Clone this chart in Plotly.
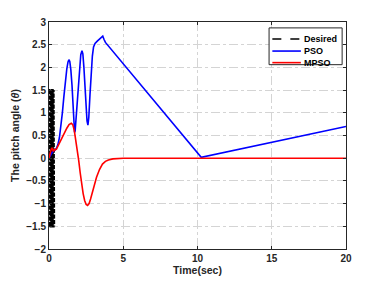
import plotly.graph_objects as go

# ---- data ----
desired_t = [0.000, 0.000, 0.012, 0.012, 0.024, 0.024, 0.036, 0.036, 0.048, 0.048,
             0.060, 0.060, 0.072, 0.072, 0.084, 0.084, 0.096, 0.096, 0.108, 0.108,
             0.120, 0.120, 0.132, 0.132, 0.144, 0.144, 0.156, 0.156, 0.168, 0.168,
             0.180, 0.180, 0.192, 0.192, 0.204, 0.204, 0.216, 0.216, 0.228, 0.228,
             0.240, 0.240, 0.252, 0.252, 0.264, 0.264, 0.276, 0.276, 0.288, 0.288,
             0.300, 0.300, 0.312, 0.312, 0.324, 0.324, 0.336, 0.336]
desired_v = [1.5, -1.5, -1.5, 1.5, 1.5, -1.5, -1.5, 1.5, 1.5, -1.5,
             -1.5, 1.5, 1.5, -1.5, -1.5, 1.5, 1.5, -1.5, -1.5, 1.5,
             1.5, -1.5, -1.5, 1.5, 1.5, -1.5, -1.5, 1.5, 1.5, -1.5,
             -1.5, 1.5, 1.5, -1.5, -1.5, 1.5, 1.5, -1.5, -1.5, 1.5,
             1.5, -1.5, -1.5, 1.5, 1.5, -1.5, -1.5, 1.5, 1.5, -1.5,
             -1.5, 1.5, 1.5, -1.5, -1.5, 1.5, 1.5, -1.5]

pso_t = [0.0, 0.1, 0.2, 0.3, 0.4, 0.5, 0.6, 0.7, 0.8, 0.9, 1.0, 1.1, 1.2, 1.28,
         1.34, 1.4, 1.47, 1.55, 1.62, 1.68, 1.72, 1.76, 1.82, 1.9, 1.98, 2.06,
         2.14, 2.22, 2.28, 2.35, 2.42, 2.5, 2.56, 2.62, 2.68, 2.76, 2.84, 2.92,
         3.0, 3.1, 3.25, 3.4, 3.55, 3.62, 3.7, 3.8, 10.25, 20.0]
pso_v = [0.0, 0.07, 0.12, 0.16, 0.18, 0.22, 0.3, 0.45, 0.7, 1.0, 1.35, 1.7, 1.97, 2.12,
         2.17, 2.13, 1.95, 1.6, 1.15, 0.75, 0.57, 0.6, 0.85, 1.3, 1.7, 2.05,
         2.28, 2.37, 2.3, 2.0, 1.55, 1.1, 0.82, 0.73, 0.9, 1.4, 1.9, 2.25,
         2.45, 2.53, 2.58, 2.62, 2.68, 2.69, 2.62, 2.55, 0.02, 0.7]

mpso_t = [0.0, 0.05, 0.1, 0.15, 0.2, 0.25, 0.3, 0.35, 0.4, 0.5, 0.6, 0.8, 1.0, 1.2,
          1.35, 1.5, 1.6, 1.7, 1.8, 1.9, 2.0, 2.1, 2.2, 2.3, 2.4, 2.5, 2.6, 2.7,
          2.8, 2.9, 3.0, 3.2, 3.4, 3.6, 3.8, 4.0, 4.3, 4.7, 5.0, 20.0]
mpso_v = [0.0, 0.08, 0.15, 0.2, 0.22, 0.17, 0.15, 0.2, 0.18, 0.2, 0.26, 0.4, 0.53, 0.66,
          0.74, 0.77, 0.74, 0.62, 0.42, 0.2, -0.05, -0.32, -0.58, -0.78, -0.93, -1.02, -1.04, -1.0,
          -0.9, -0.78, -0.65, -0.42, -0.25, -0.13, -0.07, -0.04, -0.015, -0.004, 0.0, 0.0]

series_names = ["Desired", "PSO", "MPSO"]
series_colors = ["black", "#0000ff", "#ff0000"]
series_dash = ["dash", "solid", "solid"]

x_ticks = [0, 5, 10, 15, 20]
y_ticks = [-2, -1.5, -1, -0.5, 0, 0.5, 1, 1.5, 2, 2.5, 3]

FONT = "Liberation Sans, Arial, Helvetica"

fig = go.Figure()
fig.add_trace(go.Scatter(x=desired_t, y=desired_v, mode="lines", name=series_names[0],
                         line=dict(color=series_colors[0], width=2.4, dash="4px,1.5px")))
fig.add_trace(go.Scatter(x=pso_t, y=pso_v, mode="lines", name=series_names[1],
                         line=dict(color=series_colors[1], width=1.6)))
fig.add_trace(go.Scatter(x=mpso_t, y=mpso_v, mode="lines", name=series_names[2],
                         line=dict(color=series_colors[2], width=1.6)))

axis_common = dict(
    showline=True, linecolor="#262626", linewidth=1, mirror="allticks",
    ticks="inside", ticklen=3, tickcolor="#262626",
    showgrid=True, gridcolor="#d4d4d4", griddash="dashdot", gridwidth=1,
    zeroline=False,
    tickfont=dict(family=FONT, size=10, color="#262626", weight="bold"),
)

# manual compact legend (box + sample lines + labels), in plot-area coordinates
lx0, lx1, ly0, ly1 = 0.741, 0.987, 0.812, 0.974
shapes = [dict(type="rect", xref="paper", yref="paper", x0=lx0, x1=lx1, y0=ly0, y1=ly1,
               line=dict(color="#262626", width=1), fillcolor="white", layer="above")]
annotations = []
row_y = [0.925, 0.872, 0.821]
for name, col, dsh, yy in zip(series_names, series_colors, series_dash, row_y):
    shapes.append(dict(type="line", xref="paper", yref="paper", x0=0.752, x1=0.848,
                       y0=yy, y1=yy, line=dict(color=col, width=1.6, dash=dsh), layer="above"))
    annotations.append(dict(xref="paper", yref="paper", x=0.851, y=yy, xanchor="left",
                            yanchor="middle", showarrow=False, text=name,
                            font=dict(family=FONT, size=9, color="black", weight="bold")))

fig.update_layout(
    width=382, height=286,
    margin=dict(l=49, r=36, t=22, b=30),
    paper_bgcolor="white", plot_bgcolor="white",
    showlegend=False,
    shapes=shapes, annotations=annotations,
    xaxis=dict(range=[0, 20], tickvals=x_ticks,
               title=dict(text="Time(sec)", standoff=3,
                          font=dict(family=FONT, size=10.5, color="#262626", weight="bold")),
               **axis_common),
    yaxis=dict(range=[-2, 3], tickvals=y_ticks,
               title=dict(text="The pitch angle (<i>θ</i>)", standoff=4,
                          font=dict(family=FONT, size=10.5, color="#262626", weight="bold")),
               **axis_common),
)

fig.write_html("out.html", config={"displayModeBar": False},
               post_script="document.body.style.margin='0';")
